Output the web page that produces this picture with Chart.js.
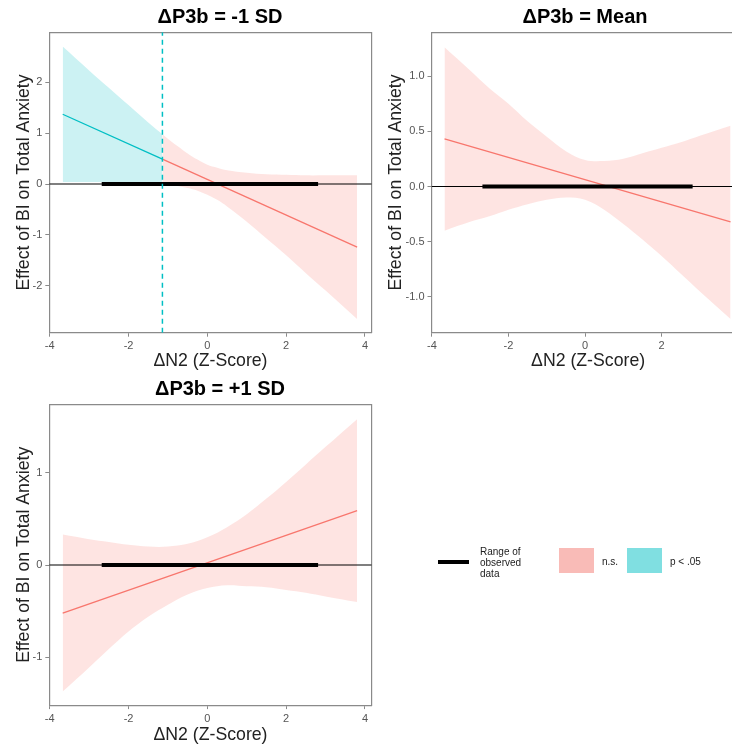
<!DOCTYPE html>
<html>
<head>
<meta charset="utf-8">
<script src="https://cdn.jsdelivr.net/npm/chart.js@4.4.0/dist/chart.umd.min.js"></script>
<style>
  html, body { margin: 0; padding: 0; background: #fff; overflow: hidden; }
  #page { position: relative; width: 732px; height: 746px; overflow: hidden; font-family: "Liberation Sans", Arial, sans-serif; }
  .panel { position: absolute; }
  .lg { position: absolute; font-size: 10px; color: #222; line-height: 11px; }
</style>
</head>
<body>
<div id="page">
  <canvas id="c1" class="panel" width="440" height="372" style="left:0;top:0"></canvas>
  <canvas id="c2" class="panel" width="426" height="372" style="left:372px;top:0"></canvas>
  <canvas id="c3" class="panel" width="440" height="374" style="left:0;top:372px"></canvas>

  <!-- legend -->
  <div style="position:absolute;left:438px;top:560px;width:31px;height:4px;background:#000"></div>
  <div class="lg" style="left:480px;top:546px">Range of<br>observed<br>data</div>
  <div style="position:absolute;left:559px;top:548px;width:35px;height:25px;background:#f9bbb7"></div>
  <div class="lg" style="left:602px;top:556px">n.s.</div>
  <div style="position:absolute;left:627px;top:548px;width:35px;height:25px;background:#80dfe1"></div>
  <div class="lg" style="left:670px;top:556px">p &lt; .05</div>
</div>
<script>
// axis ticks
const xTicks = [-4, -2, 0, 2, 4];
const xTickLabels = ['-4', '-2', '0', '2', '4'];
const y1Ticks = [-2, -1, 0, 1, 2];
const y1TickLabels = ['-2', '-1', '0', '1', '2'];
const y2Ticks = [-1, -0.5, 0, 0.5, 1];
const y2TickLabels = ['-1.0', '-0.5', '0.0', '0.5', '1.0'];
const y3Ticks = [-1, 0, 1];
const y3TickLabels = ['-1', '0', '1'];

// range of observed data (bold bar on y = 0)
const observedRange = [-2.68, 2.81];

// panel 1: dP3b = -1 SD  (Johnson-Neyman point at -1.14)
const jn1 = -1.14;
const sigX1 = [-3.67, -3, -2.5, -2, -1.5, -1.14];
const sigUp1 = [2.70, 2.23, 1.89, 1.55, 1.21, 0.98];
const sigLo1 = [0.04, 0.04, 0.04, 0.03, 0.01, 0.00];
const sigLine1 = [1.37, 0.49];
const nsX1 = [-1.14, -0.75, -0.5, -0.25, 0, 0.25, 0.5, 1, 1.5, 2, 2.5, 3, 3.8];
const nsUp1 = [0.98, 0.74, 0.60, 0.48, 0.38, 0.32, 0.27, 0.22, 0.19, 0.18, 0.17, 0.17, 0.17];
const nsLo1 = [0.00, -0.04, -0.08, -0.13, -0.21, -0.31, -0.44, -0.74, -1.07, -1.40, -1.75, -2.09, -2.65];
const nsLine1 = [0.49, -1.24];

// panel 2: dP3b = Mean
const nsX2 = [-3.67, -3, -2.5, -2, -1.5, -1, -0.5, 0, 0.5, 1, 1.5, 2, 2.5, 3, 3.8];
const nsUp2 = [1.26, 1.05, 0.89, 0.75, 0.59, 0.45, 0.32, 0.24, 0.23, 0.25, 0.30, 0.35, 0.40, 0.46, 0.55];
const nsLo2 = [-0.40, -0.32, -0.27, -0.21, -0.16, -0.12, -0.10, -0.12, -0.21, -0.34, -0.48, -0.63, -0.79, -0.95, -1.20];
const nsLine2 = [0.43, -0.32];

// panel 3: dP3b = +1 SD
const nsX3 = [-3.67, -3, -2.5, -2, -1.5, -1, -0.5, 0, 0.5, 1, 1.5, 2, 2.5, 3, 3.8];
const nsUp3 = [0.33, 0.28, 0.25, 0.22, 0.20, 0.20, 0.23, 0.30, 0.41, 0.55, 0.72, 0.90, 1.09, 1.28, 1.58];
const nsLo3 = [-1.37, -1.11, -0.91, -0.72, -0.56, -0.43, -0.32, -0.25, -0.22, -0.23, -0.24, -0.27, -0.30, -0.34, -0.40];
const nsLine3 = [-0.52, 0.59];

const RED = '#F8766D';
const CYAN = '#00BFC4';
const RED_FILL = 'rgba(248, 118, 109, 0.2)';
const CYAN_FILL = 'rgba(0, 191, 196, 0.2)';
const AXIS = '#8a8a8a';
const FONT = '"Liberation Sans", Arial, sans-serif';

function pts(xs, ys) {
    return xs.map((x, i) => ({ x: x, y: ys[i] }));
}

function tickLabel(vals, labels) {
    return function (v) {
        const i = vals.indexOf(v);
        return i >= 0 ? labels[i] : '';
    };
}

function makePanel(id, p) {
    const datasets = [];
    const base = { xAxisID: 'x', yAxisID: 'y', pointRadius: 0, pointHoverRadius: 0, fill: false };

    // dashed Johnson-Neyman line (on top)
    if (p.jn !== undefined) {
        datasets.push(Object.assign({}, base, {
            data: [{ x: p.jn, y: p.yMin }, { x: p.jn, y: p.yMax }],
            borderColor: CYAN, borderWidth: 1.5, borderDash: [5, 4]
        }));
    }
    // range of observed data
    datasets.push(Object.assign({}, base, {
        data: [{ x: observedRange[0], y: 0 }, { x: observedRange[1], y: 0 }],
        borderColor: '#000', borderWidth: 4, borderCapStyle: 'butt'
    }));
    // zero line
    datasets.push(Object.assign({}, base, {
        data: [{ x: p.xMin, y: 0 }, { x: p.xMax, y: 0 }],
        borderColor: '#000', borderWidth: 1.1
    }));
    // slope lines
    p.lines.forEach(l => {
        datasets.push(Object.assign({}, base, {
            data: pts(l.x, l.y), borderColor: l.color, borderWidth: 1.3
        }));
    });
    // confidence bands
    p.bands.forEach(b => {
        datasets.push(Object.assign({}, base, {
            data: pts(b.x, b.up), borderColor: 'rgba(0,0,0,0)', borderWidth: 0,
            tension: 0.35
        }));
        datasets.push(Object.assign({}, base, {
            data: pts(b.x, b.lo), borderColor: 'rgba(0,0,0,0)', borderWidth: 0,
            tension: 0.35, fill: '-1', backgroundColor: b.fill
        }));
    });

    new Chart(document.getElementById(id), {
        type: 'line',
        data: { datasets: datasets },
        options: {
            responsive: false,
            animation: false,
            events: [],
            layout: { padding: 0 },
            plugins: {
                legend: { display: false },
                tooltip: { enabled: false },
                filler: { drawTime: 'beforeDatasetsDraw' },
                title: {
                    display: true, text: p.title, color: '#000',
                    font: { family: FONT, size: 20, weight: 'bold' },
                    padding: { top: 5, bottom: 3.3 }
                }
            },
            scales: {
                x: {
                    type: 'linear', position: 'bottom', min: p.xMin, max: p.xMax,
                    afterBuildTicks: a => { a.ticks = xTicks.map(v => ({ value: v })); },
                    afterFit: a => { a.height = p.xAxisH; },
                    ticks: {
                        color: '#555', font: { family: FONT, size: 11 }, padding: 3,
                        maxRotation: 0, autoSkip: false, callback: tickLabel(xTicks, xTickLabels)
                    },
                    grid: { drawOnChartArea: false, drawTicks: true, tickLength: 4, color: AXIS },
                    border: { display: true, color: AXIS, width: 1.2 },
                    title: {
                        display: true, text: 'ΔN2 (Z-Score)', color: '#222',
                        font: { family: FONT, size: 17.7 }, padding: { top: 0, bottom: 0 }
                    }
                },
                y: {
                    type: 'linear', position: 'left', min: p.yMin, max: p.yMax,
                    afterBuildTicks: a => { a.ticks = p.yTicks.map(v => ({ value: v })); },
                    afterFit: a => { a.width = p.yAxisW; },
                    ticks: {
                        color: '#555', font: { family: FONT, size: 11 }, padding: 3,
                        autoSkip: false, callback: tickLabel(p.yTicks, p.yTickLabels)
                    },
                    grid: { drawOnChartArea: false, drawTicks: true, tickLength: 4, color: AXIS },
                    border: { display: true, color: AXIS, width: 1.2 },
                    title: {
                        display: true, text: 'Effect of BI on Total Anxiety', color: '#222',
                        font: { family: FONT, size: 17.7 }, padding: { top: p.yTitlePad, bottom: 0 }
                    }
                },
                // empty axes only used to close the panel box
                xTop: {
                    type: 'linear', position: 'top', min: 0, max: 1,
                    afterFit: a => { a.height = 0; },
                    ticks: { display: false }, grid: { display: false },
                    border: { display: true, color: AXIS, width: 1.2 }
                },
                yRight: {
                    type: 'linear', position: 'right', min: 0, max: 1,
                    afterFit: a => { a.width = p.rightW; },
                    ticks: { display: false }, grid: { display: false },
                    border: { display: true, color: AXIS, width: 1.2 }
                }
            }
        }
    });
}

makePanel('c1', {
    title: 'ΔP3b = -1 SD',
    xMin: -4.01, xMax: 4.17, yMin: -2.92, yMax: 2.98,
    yTicks: y1Ticks, yTickLabels: y1TickLabels,
    yAxisW: 49.3, rightW: 68.3, xAxisH: 39.3, yTitlePad: 13.3,
    jn: jn1,
    lines: [
        { x: [sigX1[0], jn1], y: sigLine1, color: CYAN },
        { x: [jn1, nsX1[nsX1.length - 1]], y: nsLine1, color: RED }
    ],
    bands: [
        { x: sigX1, up: sigUp1, lo: sigLo1, fill: CYAN_FILL },
        { x: nsX1, up: nsUp1, lo: nsLo1, fill: RED_FILL }
    ]
});

makePanel('c2', {
    title: 'ΔP3b = Mean',
    xMin: -4.01, xMax: 4.17, yMin: -1.324, yMax: 1.396,
    yTicks: y2Ticks, yTickLabels: y2TickLabels,
    yAxisW: 59.5, rightW: 53.3, xAxisH: 39.3, yTitlePad: 13,
    lines: [
        { x: [nsX2[0], nsX2[nsX2.length - 1]], y: nsLine2, color: RED }
    ],
    bands: [
        { x: nsX2, up: nsUp2, lo: nsLo2, fill: RED_FILL }
    ]
});

makePanel('c3', {
    title: 'ΔP3b = +1 SD',
    xMin: -4.01, xMax: 4.17, yMin: -1.517, yMax: 1.741,
    yTicks: y3Ticks, yTickLabels: y3TickLabels,
    yAxisW: 49.3, rightW: 68.3, xAxisH: 40.9, yTitlePad: 13.3,
    lines: [
        { x: [nsX3[0], nsX3[nsX3.length - 1]], y: nsLine3, color: RED }
    ],
    bands: [
        { x: nsX3, up: nsUp3, lo: nsLo3, fill: RED_FILL }
    ]
});
</script>
</body>
</html>
